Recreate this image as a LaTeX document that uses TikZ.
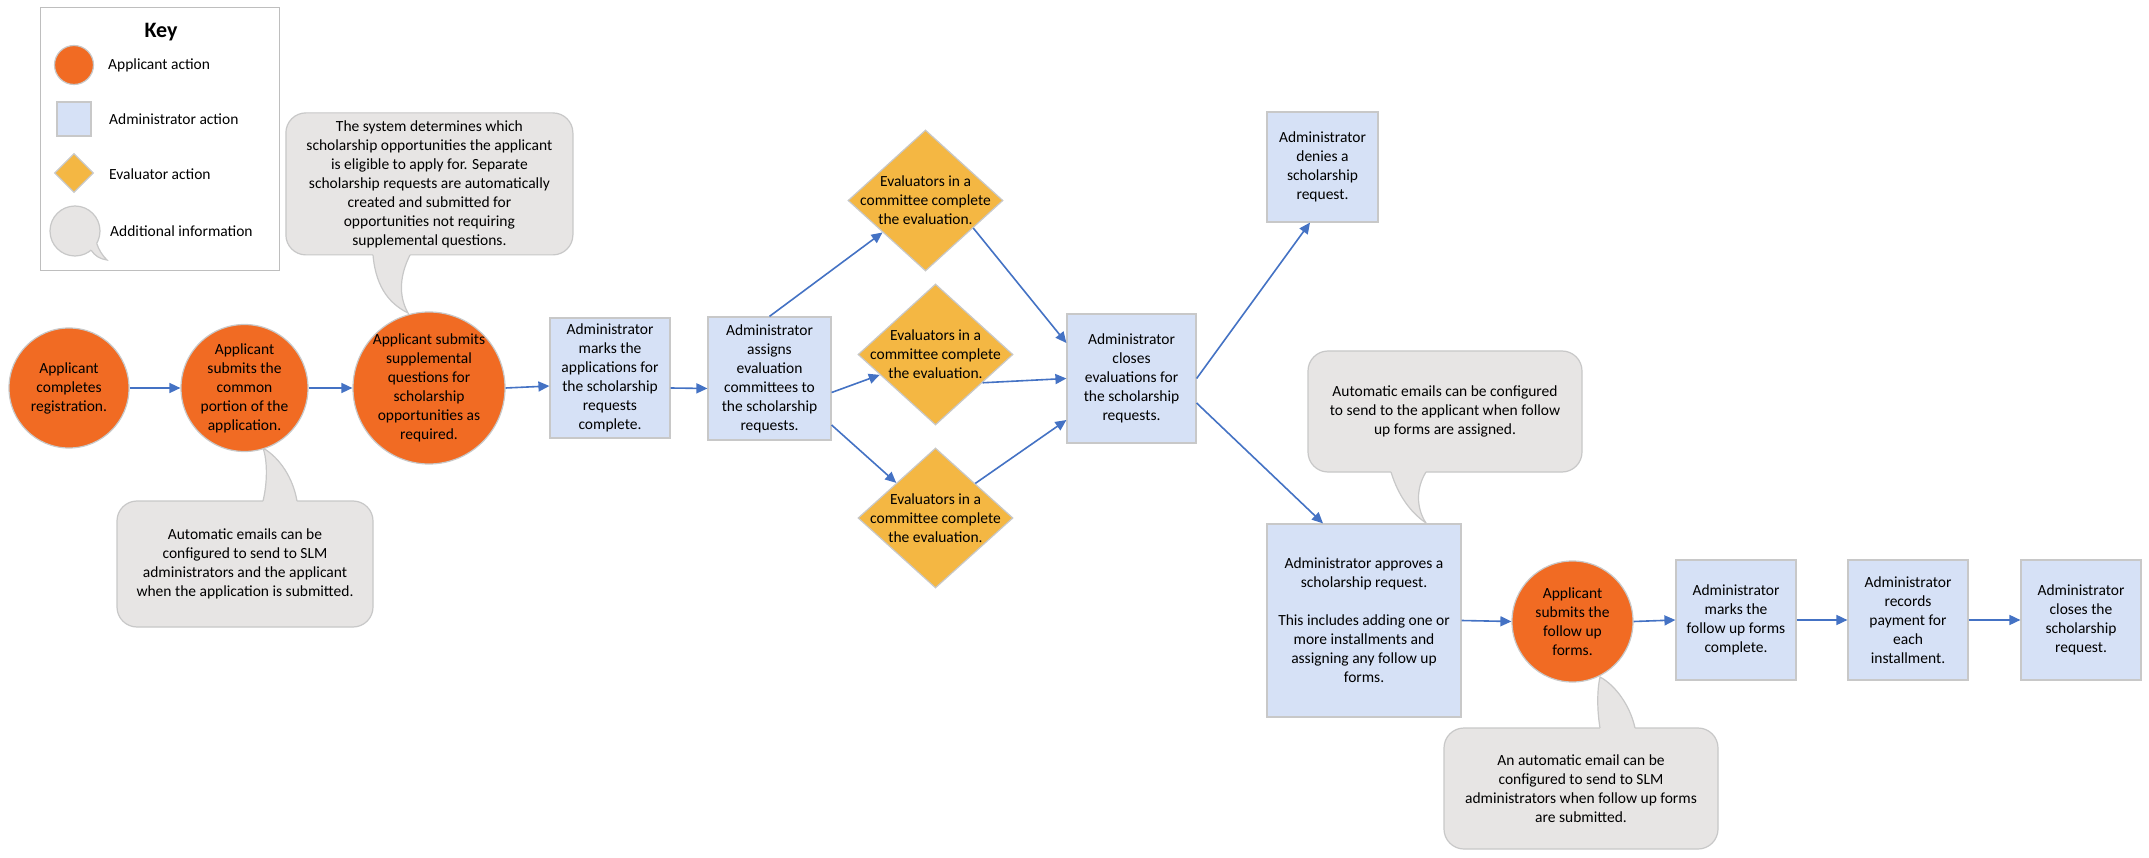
\documentclass[tikz,border=0pt]{standalone}
\usepackage{fontspec}
\setmainfont{Carlito}
\usetikzlibrary{shapes.geometric,arrows.meta,calc}
\definecolor{apporange}{RGB}{241,107,35}
\definecolor{adminblue}{RGB}{214,225,246}
\definecolor{evalyellow}{RGB}{244,183,67}
\definecolor{bubblegrey}{RGB}{231,229,228}
\definecolor{shapeborder}{RGB}{200,200,200}
\definecolor{keyborder}{RGB}{190,190,190}
\definecolor{flowblue}{RGB}{68,114,196}
\tikzset{
  every node/.style={font=\fontsize{15.5}{19}\selectfont, text=black},
  txt/.style={align=center, inner sep=0pt},
  appc/.style={circle, fill=apporange, draw=shapeborder, line width=1.2pt, inner sep=0pt},
  adminbox/.style={rectangle, fill=adminblue, draw=shapeborder, line width=1.2pt, inner sep=0pt, align=center},
  evald/.style={diamond, fill=evalyellow, draw=shapeborder, line width=1.2pt, inner sep=0pt},
  bubble/.style={rectangle, rounded corners=20pt, fill=bubblegrey, draw=shapeborder, line width=1.2pt, inner sep=0pt, align=center},
  tailfill/.style={fill=bubblegrey},
  tailedge/.style={draw=shapeborder, line width=1.2pt},
  flow/.style={draw=flowblue, line width=1.6pt, -{Triangle[length=11pt,width=10pt]}},
  keylabel/.style={anchor=west, inner sep=0pt},
}
\begin{document}
\begin{tikzpicture}[x=1pt,y=-1pt]
\fill[white] (0,0) rectangle (2149,858);
\useasboundingbox (0,0) rectangle (2149,858);

% ---------- Key ----------
\node[draw=keyborder, line width=1pt, fill=white, minimum width=239pt, minimum height=263pt, inner sep=0pt] (keybox) at (159.5,139.5) {};
\node[font=\fontsize{22}{26}\selectfont\bfseries] (keytitle) at (161,32) {Key};
\node[appc, minimum size=39pt] (keyapp) at (74,65) {};
\node[keylabel] (keyapplbl) at (108,65) {Applicant action};
\node[adminbox, minimum width=34pt, minimum height=34pt] (keyadm) at (74,119) {};
\node[keylabel] (keyadmlbl) at (109,119) {Administrator action};
\node[evald, minimum width=39pt, minimum height=39pt] (keyeval) at (74,173) {};
\node[keylabel] (keyevallbl) at (109,174) {Evaluator action};
\node[circle, fill=bubblegrey, draw=shapeborder, line width=1.2pt, minimum size=50pt, inner sep=0pt] (keybub) at (75,231) {};
\fill[tailfill] (91.1,250.2) .. controls (95,256) and (100,259) .. (107,260) .. controls (102,255) and (99,250) .. (96.7,243.5) -- (85,240) -- cycle;
\draw[tailedge] (91.1,250.2) .. controls (95,256) and (100,259) .. (107,260) .. controls (102,255) and (99,250) .. (96.7,243.5);
\node[keylabel] (keybublbl) at (110,231) {Additional information};

% ---------- Bubbles ----------
\node[bubble, minimum width=287pt, minimum height=142pt] (bub1) at (429.4,183.9)
  {The system determines which\\scholarship opportunities the applicant\\is eligible to apply for. Separate\\scholarship requests are automatically\\created and submitted for\\opportunities not requiring\\supplemental questions.};
\fill[tailfill] (373,250) -- (373,255) .. controls (376,290) and (392,305) .. (408,313) .. controls (398,295) and (400,275) .. (410,255) -- (410,250) -- cycle;
\draw[tailedge] (373,255) .. controls (376,290) and (392,305) .. (408,313) .. controls (398,295) and (400,275) .. (410,255);

\node[bubble, minimum width=256pt, minimum height=126pt] (bub2) at (245,564)
  {Automatic emails can be\\configured to send to SLM\\administrators and the applicant\\when the application is submitted.};
\fill[tailfill] (263,506) -- (263,501) .. controls (267,485) and (268,462) .. (263,448) .. controls (280,458) and (293,478) .. (297,501) -- (297,506) -- cycle;
\draw[tailedge] (263,501) .. controls (267,485) and (268,462) .. (263,448) .. controls (280,458) and (293,478) .. (297,501);

\node[bubble, minimum width=274pt, minimum height=121pt] (bub3) at (1445,411.5)
  {Automatic emails can be configured\\to send to the applicant when follow\\up forms are assigned.};
\fill[tailfill] (1391,467) -- (1391,472) .. controls (1398,495) and (1410,512) .. (1426,523) .. controls (1416,508) and (1416,488) .. (1426,472) -- (1426,467) -- cycle;
\draw[tailedge] (1391,472) .. controls (1398,495) and (1410,512) .. (1426,523) .. controls (1416,508) and (1416,488) .. (1426,472);

\node[bubble, minimum width=274pt, minimum height=121pt] (bub4) at (1581,788.5)
  {An automatic email can be\\configured to send to SLM\\administrators when follow up forms\\are submitted.};
\fill[tailfill] (1600,733) -- (1600,728) .. controls (1597,710) and (1597,690) .. (1600,677) .. controls (1615,685) and (1630,705) .. (1635,728) -- (1635,733) -- cycle;
\draw[tailedge] (1600,728) .. controls (1597,710) and (1597,690) .. (1600,677) .. controls (1615,685) and (1630,705) .. (1635,728);

% ---------- Flow shapes ----------
\node[appc, minimum size=120pt, label={[txt]center:{Applicant\\completes\\registration.}}] (c1) at (69,388) {};
\node[appc, minimum size=127pt, label={[txt]center:{Applicant\\submits the\\common\\portion of the\\application.}}] (c2) at (244.5,388) {};
\node[appc, minimum size=152pt, label={[txt]center:{Applicant submits\\supplemental\\questions for\\scholarship\\opportunities as\\required.}}] (c3) at (429,388) {};
\node[adminbox, minimum width=120pt, minimum height=120pt] (b1) at (610,378) {Administrator\\marks the\\applications for\\the scholarship\\requests\\complete.};
\node[adminbox, minimum width=123pt, minimum height=123pt] (b2) at (769.5,378.5) {Administrator\\assigns\\evaluation\\committees to\\the scholarship\\requests.};
\node[evald, minimum width=155pt, minimum height=141pt, label={[txt]center:{Evaluators in a\\committee complete\\the evaluation.}}] (d1) at (925.5,200.5) {};
\node[evald, minimum width=155pt, minimum height=141pt, label={[txt]center:{Evaluators in a\\committee complete\\the evaluation.}}] (d2) at (935.5,354.5) {};
\node[evald, minimum width=155pt, minimum height=140pt, label={[txt]center:{Evaluators in a\\committee complete\\the evaluation.}}] (d3) at (935.5,518) {};
\node[adminbox, minimum width=129pt, minimum height=129pt] (b3) at (1131.5,378.5) {Administrator\\closes\\evaluations for\\the scholarship\\requests.};
\node[adminbox, minimum width=111pt, minimum height=110pt] (b4) at (1322.5,167) {Administrator\\denies a\\scholarship\\request.};
\node[adminbox, minimum width=194pt, minimum height=193pt] (b5) at (1364,620.5) {Administrator approves a\\scholarship request.\\[19pt]This includes adding one or\\more installments and\\assigning any follow up\\forms.};
\node[appc, minimum size=121pt, label={[txt]center:{Applicant\\submits the\\follow up\\forms.}}] (c4) at (1572.5,621.5) {};
\node[adminbox, minimum width=120pt, minimum height=120pt] (b6) at (1736,620) {Administrator\\marks the\\follow up forms\\complete.};
\node[adminbox, minimum width=120pt, minimum height=120pt] (b7) at (1908,620) {Administrator\\records\\payment for\\each\\installment.};
\node[adminbox, minimum width=120pt, minimum height=120pt] (b8) at (2081,620) {Administrator\\closes the\\scholarship\\request.};

% ---------- Connectors ----------
\draw[flow] (c1) -- (c2);
\draw[flow] (c2) -- (c3);
\draw[flow] (c3.east) -- ([yshift=-8pt]b1.west);
\draw[flow] ([yshift=-10pt]b1.east) -- ([yshift=-10pt]b2.west);
\draw[flow] (b2.north) -- (d1);
\draw[flow] ([yshift=-14pt]b2.east) -- (d2);
\draw[flow] ([yshift=-46.5pt]b2.east) -- (d3);
\draw[flow] (d1.-30.6) -- ([yshift=35.5pt]b3.west);
\draw[flow] (d2.-31.5) -- (b3.west);
\draw[flow] (d3.41.5) -- ([yshift=-41.5pt]b3.west);
\draw[flow] (b3.east) -- ([xshift=-12.5pt]b4.south);
\draw[flow] ([yshift=-24.5pt]b3.east) -- ([xshift=-41pt]b5.north);
\draw[flow] (b5.east) -- (c4.west);
\draw[flow] (c4.east) -- (b6.west);
\draw[flow] (b6) -- (b7);
\draw[flow] (b7) -- (b8);
\end{tikzpicture}
\end{document}
